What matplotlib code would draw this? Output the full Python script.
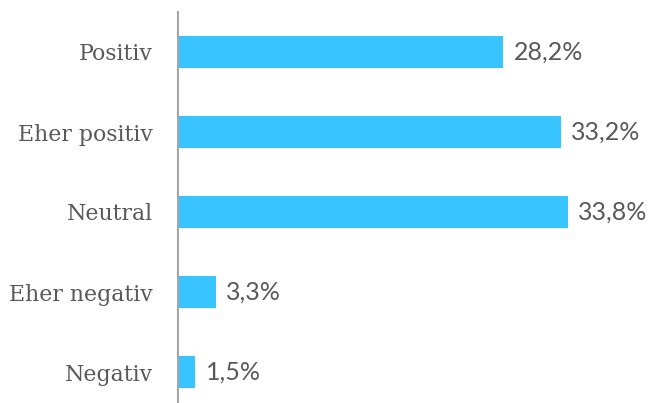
import matplotlib
matplotlib.use("Agg")
import matplotlib.pyplot as plt

categories = ["Positiv", "Eher positiv", "Neutral", "Eher negativ", "Negativ"]
values = [28.2, 33.2, 33.8, 3.3, 1.5]
value_labels = ["28,2%", "33,2%", "33,8%", "3,3%", "1,5%"]

fig = plt.figure(figsize=(6.53, 4.03), dpi=100)
ax = fig.add_axes([178/653, 0, 1 - 178/653, 1 - 12/403])
font = dict(family="DejaVu Serif", size=15.8, color="#595959")
vfont = dict(family="Lato", size=18, color="#595959")
pos = list(range(len(categories)))
ax.barh(pos, values, height=0.39, color="#38C4FF")
ax.set_ylim(4 + 0.3875, -0.5)
ax.set_xlim(0, 41.2)
for p, v, lab in zip(pos, values, value_labels):
    ax.text(v + 0.9, p, lab, va="center", ha="left", **vfont)
ax.set_yticks(pos)
ax.set_yticklabels(categories, **font)
ax.tick_params(axis="y", length=0, pad=18)
ax.set_xticks([])
for s in ["top", "right", "bottom"]:
    ax.spines[s].set_visible(False)
ax.spines["left"].set_color("#A6A6A6")
ax.spines["left"].set_linewidth(1.5)
fig.savefig("out.png", dpi=100)
